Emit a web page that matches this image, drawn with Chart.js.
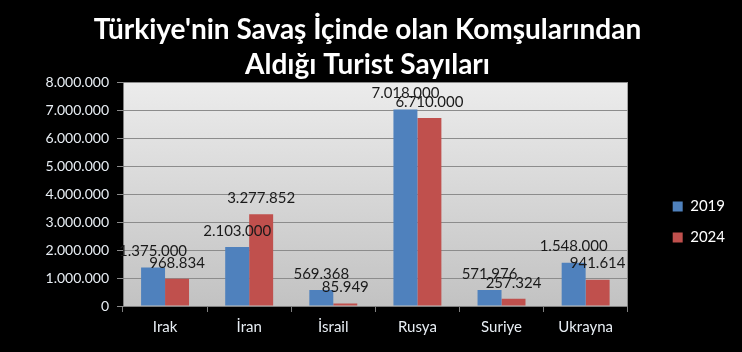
<!DOCTYPE html>
<html>
<head>
<meta charset="utf-8">
<script src="https://cdn.jsdelivr.net/npm/chart.js@4"></script>
<style>
  body { margin: 0; background: #000; }
</style>
</head>
<body>
<canvas id="myChart" width="742" height="352"></canvas>
<script>
const ulkeler = ["Irak", "İran", "İsrail", "Rusya", "Suriye", "Ukrayna"];
const turist2019 = [1375000, 2103000, 569368, 7018000, 571976, 1548000];
const turist2024 = [968834, 3277852, 85949, 6710000, 257324, 941614];
const yilEtiketleri = ["2019", "2024"];
const baslik = ["Türkiye'nin Savaş İçinde olan Komşularından", "Aldığı Turist Sayıları"];

function noktali(v) {
  return String(v).replace(/\B(?=(\d{3})+(?!\d))/g, ".");
}

// plot arka plani (gri gecis)
const arkaPlan = {
  id: 'arkaPlan',
  beforeDraw(chart) {
    const { ctx, chartArea: a } = chart;
    const g = ctx.createLinearGradient(0, a.top, 0, a.bottom);
    g.addColorStop(0, '#ececec');
    g.addColorStop(1, '#c2c2c2');
    ctx.save();
    ctx.fillStyle = g;
    ctx.fillRect(a.left, a.top, a.right - a.left, a.bottom - a.top);
    ctx.restore();
  }
};

// cubuk ustu degerler
const degerYazilari = {
  id: 'degerYazilari',
  afterDatasetsDraw(chart) {
    const ctx = chart.ctx;
    ctx.save();
    ctx.font = '15px Lato';
    ctx.fillStyle = '#1a1a1a';
    ctx.textAlign = 'center';
    ctx.textBaseline = 'middle';
    chart.data.datasets.forEach(function (ds, i) {
      chart.getDatasetMeta(i).data.forEach(function (el, j) {
        ctx.fillText(noktali(ds.data[j]), el.x, el.y - 16);
      });
    });
    ctx.restore();
  }
};

const data = {
  labels: ulkeler,
  datasets: [{
    label: yilEtiketleri[0],
    backgroundColor: '#4f81bd',
    data: turist2019,
  }, {
    label: yilEtiketleri[1],
    backgroundColor: '#c0504d',
    data: turist2024,
  }]
};

const config = {
  type: 'bar',
  data: data,
  options: {
    responsive: false,
    animation: false,
    layout: { padding: { left: 0, right: 7, bottom: 10 } },
    datasets: {
      bar: { barPercentage: 1, categoryPercentage: 0.57 }
    },
    plugins: {
      title: {
        display: true,
        text: baslik,
        color: '#ffffff',
        font: { family: 'Lato', size: 28, weight: 'bold', lineHeight: 1.25 },
        padding: { top: 12, bottom: 0 }
      },
      legend: {
        position: 'right',
        title: {
          display: true,
          text: ' ',
          color: 'rgba(0,0,0,0)',
          font: { size: 10, lineHeight: 1.2 },
          padding: { top: 0, bottom: 90 }
        },
        labels: {
          color: '#ffffff',
          font: { family: 'Lato', size: 15 },
          boxWidth: 10,
          boxHeight: 10,
          padding: 16
        }
      },
      tooltip: { enabled: false }
    },
    scales: {
      x: {
        grid: { drawOnChartArea: false, color: '#808080', tickLength: 6 },
        border: { color: '#808080' },
        ticks: { color: '#e8eef4', font: { family: 'Lato', size: 15 }, padding: 6 }
      },
      y: {
        min: 0,
        max: 8000000,
        grid: { color: '#8c8c8c', tickLength: 6 },
        border: { color: '#808080' },
        ticks: {
          stepSize: 1000000,
          color: '#e8eef4',
          font: { family: 'Lato', size: 14 },
          padding: 8,
          callback: function (v) { return noktali(v); }
        },
        afterFit: function (s) { s.width = 123; }
      },
      // sag tarafta legend ile plot arasi bosluk
      bosluk: {
        type: 'linear',
        position: 'right',
        grid: { display: false },
        border: { display: false },
        ticks: { display: false },
        afterFit: function (s) { s.width = 29; }
      }
    }
  },
  plugins: [arkaPlan, degerYazilari]
};

const myChart = new Chart(document.getElementById('myChart'), config);
</script>
</body>
</html>
